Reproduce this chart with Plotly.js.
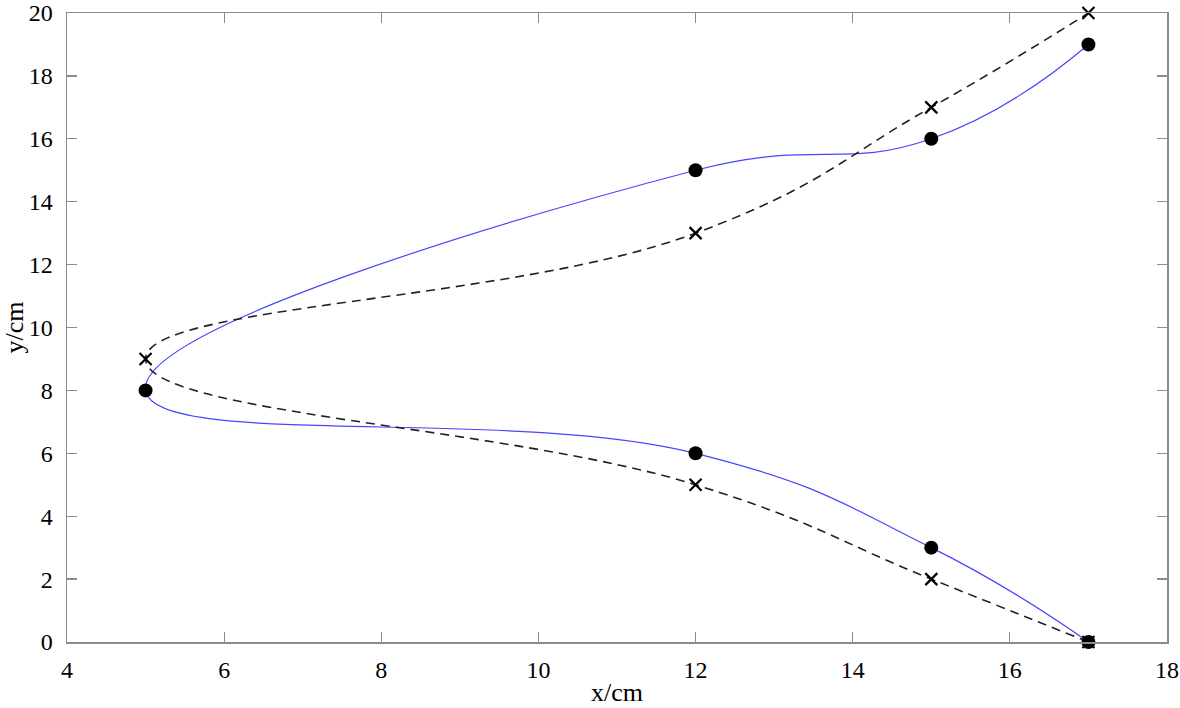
<!DOCTYPE html>
<html>
<head>
<meta charset="utf-8">
<script src="https://cdn.plot.ly/plotly-3.0.1.min.js"></script>
<style>html,body{margin:0;padding:0;background:#fff;}#chart{width:1180px;height:708px;}</style>
</head>
<body>
<div id="chart"></div>
<script>
// Data
const dotX = [17, 15, 12, 5, 12, 15, 17];
const dotY = [0, 3, 6, 8, 15, 16, 19];
const crossX = [17, 15, 12, 5, 12, 15, 17];
const crossY = [0, 2, 5, 9, 13, 17, 20];
const xTicks = [4, 6, 8, 10, 12, 14, 16, 18];
const yTicks = [0, 2, 4, 6, 8, 10, 12, 14, 16, 18, 20];

const axisColor = '#8c8c8c';
const fam = "'Liberation Serif', 'Times New Roman', serif";
const tickFont = {family: fam, size: 24, color: '#000'};
const titleFont = {family: fam, size: 26, color: '#000'};

const traces = [
  {x: dotX, y: dotY, mode: 'lines', line: {color: '#4646ff', width: 1.2, shape: 'spline', smoothing: 1.3}, hoverinfo: 'skip', showlegend: false, cliponaxis: false},
  {x: crossX, y: crossY, mode: 'lines', line: {color: '#222', width: 1.6, dash: '9px,6px', shape: 'spline', smoothing: 1.3}, hoverinfo: 'skip', showlegend: false, cliponaxis: false},
  {x: dotX, y: dotY, mode: 'markers', marker: {symbol: 'circle', size: 14, color: '#000'}, showlegend: false, cliponaxis: false},
  {x: crossX, y: crossY, mode: 'markers', marker: {symbol: 'x-thin-open', size: 12, color: '#000', line: {width: 2.2, color: '#000'}}, showlegend: false, cliponaxis: false}
];

const axisCommon = {
  showgrid: false, zeroline: false, showline: true, linecolor: axisColor, linewidth: 1.5,
  mirror: 'ticks', ticks: 'inside', ticklen: 10, tickcolor: axisColor, tickwidth: 1.2,
  tickfont: tickFont, ticklabeloverflow: 'allow'
};

const layout = {
  width: 1180, height: 708,
  margin: {l: 67, r: 13, t: 13, b: 66},
  paper_bgcolor: '#fff', plot_bgcolor: '#fff',
  font: tickFont,
  xaxis: Object.assign({}, axisCommon, {range: [4, 18], tickvals: xTicks, ticktext: xTicks.map(String),
    ticklabelstandoff: 6, title: {text: 'x/cm', font: titleFont, standoff: 0}}),
  yaxis: Object.assign({}, axisCommon, {range: [0, 20], tickvals: yTicks, ticktext: yTicks.map(String),
    ticklabelstandoff: 8, title: {text: 'y/cm', font: titleFont, standoff: 2}})
};

Plotly.newPlot('chart', traces, layout, {displayModeBar: false, staticPlot: true});
</script>
</body>
</html>
